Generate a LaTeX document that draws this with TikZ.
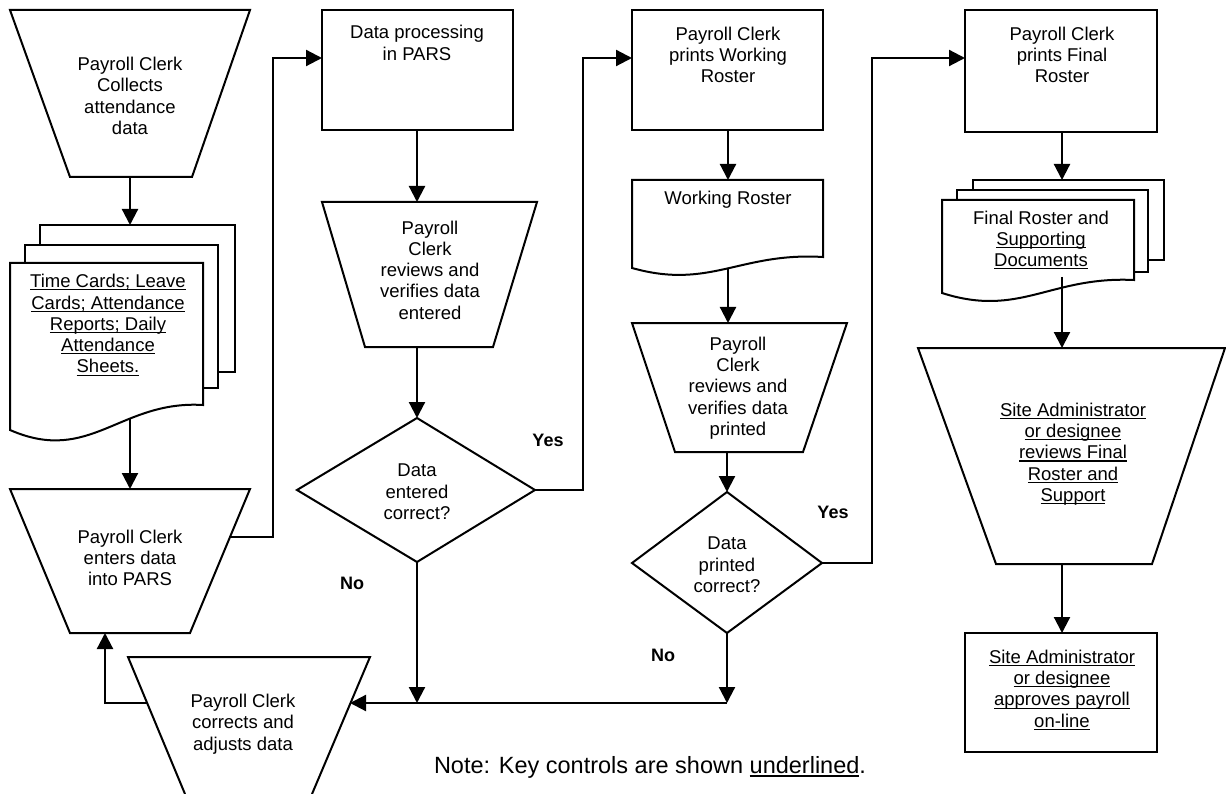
\documentclass[tikz,border=0pt]{standalone}
\usepackage{fontspec}
\setmainfont{Liberation Sans}
\usetikzlibrary{arrows.meta}
\newcommand{\myul}[1]{\setbox0\hbox{#1}\rlap{\rule[-0.15em]{\wd0}{0.06em}}\box0}
\tikzset{
  shp/.style={line width=2pt, line join=miter, fill=white},
  con/.style={line width=2.2pt},
  arr/.style={con, -{Triangle[length=16pt,width=16pt]}},
  txt/.style={align=center, font=\fontsize{18.5}{21.3}\selectfont, inner sep=0pt},
  lab/.style={font=\fontsize{18}{21}\selectfont\bfseries, inner sep=0pt},
  notetxt/.style={font=\fontsize{23.5}{27}\selectfont, inner sep=0pt}
}
\begin{document}
\begin{tikzpicture}[x=1pt,y=-1pt]
\useasboundingbox (0,0) rectangle (1226,794);

% ---------- column 1 ----------
\draw[shp] (10,10) -- (250,10) -- (192,177) -- (70,177) -- cycle;
\node[txt] (collect) at (130,96) {Payroll Clerk\\Collects\\attendance\\data};
\coordinate (collectB) at (130,177);

\draw[shp] (40,225) rectangle (235,372);
\draw[shp] (25,245) rectangle (218,388);
\draw[shp] (10,263) -- (203,263) -- (203,405) .. controls (120,400) and (90,465) .. (10,430) -- cycle;
\node[txt] (cards) at (108,325) {\myul{Time Cards; Leave}\\\myul{Cards; Attendance}\\\myul{Reports; Daily}\\\myul{Attendance}\\\myul{Sheets.}};
\coordinate (cardsT) at (130,225);
\coordinate (cardsB) at (130,419);

\draw[shp] (10,489) -- (250,489) -- (190,633) -- (70,633) -- cycle;
\node[txt] (enter) at (130,558) {Payroll Clerk\\enters data\\into PARS};
\coordinate (enterT) at (130,489);
\coordinate (enterR) at (230,537);
\coordinate (enterB) at (105,633);

\draw[shp] (185,794) -- (128,657) -- (370,657) -- (312,794);
\node[txt] (correct) at (243,724) {Payroll Clerk\\corrects and\\adjusts data};
\coordinate (correctR) at (350,703);
\coordinate (correctL) at (147,703);

% ---------- column 2 ----------
\draw[shp] (322,10) rectangle (513,130);
\node[txt] (proc) at (417,43) {Data processing\\in PARS};
\coordinate (procL) at (322,58);
\coordinate (procB) at (417,130);

\draw[shp] (322,202) -- (537,202) -- (493,347) -- (365,347) -- cycle;
\node[txt] (rev1) at (430,270) {Payroll\\Clerk\\reviews and\\verifies data\\entered};
\coordinate (rev1T) at (417,202);
\coordinate (rev1B) at (417,347);

\draw[shp] (417,418) -- (535,490) -- (417,562) -- (297,490) -- cycle;
\node[txt] (dec1) at (417,492) {Data\\entered\\correct?};
\coordinate (dec1T) at (417,418);
\coordinate (dec1R) at (535,490);
\coordinate (dec1B) at (417,562);
\coordinate (merge1) at (417,703);

% ---------- column 3 ----------
\draw[shp] (632,10) rectangle (823,130);
\node[txt] (prw) at (728,55) {Payroll Clerk\\prints Working\\Roster};
\coordinate (prwL) at (632,58);
\coordinate (prwB) at (728,130);

\draw[shp] (632,180) -- (823,180) -- (823,257) .. controls (740,252) and (710,290) .. (632,268) -- cycle;
\node[txt] (wr) at (728,200) {Working Roster};
\coordinate (wrT) at (728,180);
\coordinate (wrB) at (728,268);

\draw[shp] (632,323) -- (847,323) -- (803,452) -- (675,452) -- cycle;
\node[txt] (rev2) at (738,388) {Payroll\\Clerk\\reviews and\\verifies data\\printed};
\coordinate (rev2T) at (728,323);
\coordinate (rev2B) at (727,452);

\draw[shp] (727,492) -- (822,563) -- (727,633) -- (632,563) -- cycle;
\node[txt] (dec2) at (727,565) {Data\\printed\\correct?};
\coordinate (dec2T) at (727,492);
\coordinate (dec2R) at (822,563);
\coordinate (dec2B) at (727,633);
\coordinate (merge2) at (727,703);

% ---------- column 4 ----------
\draw[shp] (965,10) rectangle (1157,132);
\node[txt] (prf) at (1062,55) {Payroll Clerk\\prints Final\\Roster};
\coordinate (prfL) at (965,58);
\coordinate (prfB) at (1062,132);

\draw[shp] (973,180) rectangle (1164,260);
\draw[shp] (957,190) rectangle (1148,272);
\draw[shp] (942,200) -- (1134,200) -- (1134,280) .. controls (1050,276) and (1020,318) .. (942,293) -- cycle;
\node[txt] (fr) at (1041,240) {Final Roster and\\\myul{Supporting}\\\myul{Documents}};
\coordinate (frT) at (1062,180);
\coordinate (frB) at (1062,277);

\draw[shp] (918,348) -- (1225,348) -- (1152,564) -- (996,564) -- cycle;
\node[txt] (sarev) at (1073,454) {\myul{Site Administrator}\\\myul{or designee}\\\myul{reviews Final}\\\myul{Roster and}\\\myul{Support}};
\coordinate (sarevT) at (1062,348);
\coordinate (sarevB) at (1062,564);

\draw[shp] (965,633) rectangle (1157,752);
\node[txt] (saapp) at (1062,690) {\myul{Site Administrator}\\\myul{or designee}\\\myul{approves payroll}\\\myul{on-line}};
\coordinate (saappT) at (1062,633);

% ---------- connectors ----------
\draw[arr] (collectB) -- (cardsT);
\draw[arr] (cardsB) -- (enterT);
\draw[arr] (enterR) -- ++(43,0) |- (procL);
\draw[arr] (procB) -- (rev1T);
\draw[arr] (rev1B) -- (dec1T);
\draw[arr] (dec1R) -- ++(48,0) |- (prwL);
\draw[arr] (dec1B) -- (merge1);
\draw[arr] (prwB) -- (wrT);
\draw[arr] (wrB) -- (rev2T);
\draw[arr] (rev2B) -- (dec2T);
\draw[arr] (dec2R) -- ++(50,0) |- (prfL);
\draw[arr] (dec2B) -- (merge2);
\draw[arr] (merge2) -- (correctR);
\draw[arr] (correctL) -| (enterB);
\draw[arr] (prfB) -- (frT);
\draw[arr] (frB) -- (sarevT);
\draw[arr] (sarevB) -- (saappT);

% ---------- labels ----------
\node[lab] (yes1) at (548,440) {Yes};
\node[lab] (no1) at (352,583) {No};
\node[lab] (yes2) at (833,512) {Yes};
\node[lab] (no2) at (663,655) {No};
\node[notetxt] (note) at (650,767) {Note: Key controls are shown \myul{underlined}.};
\end{tikzpicture}
\end{document}
